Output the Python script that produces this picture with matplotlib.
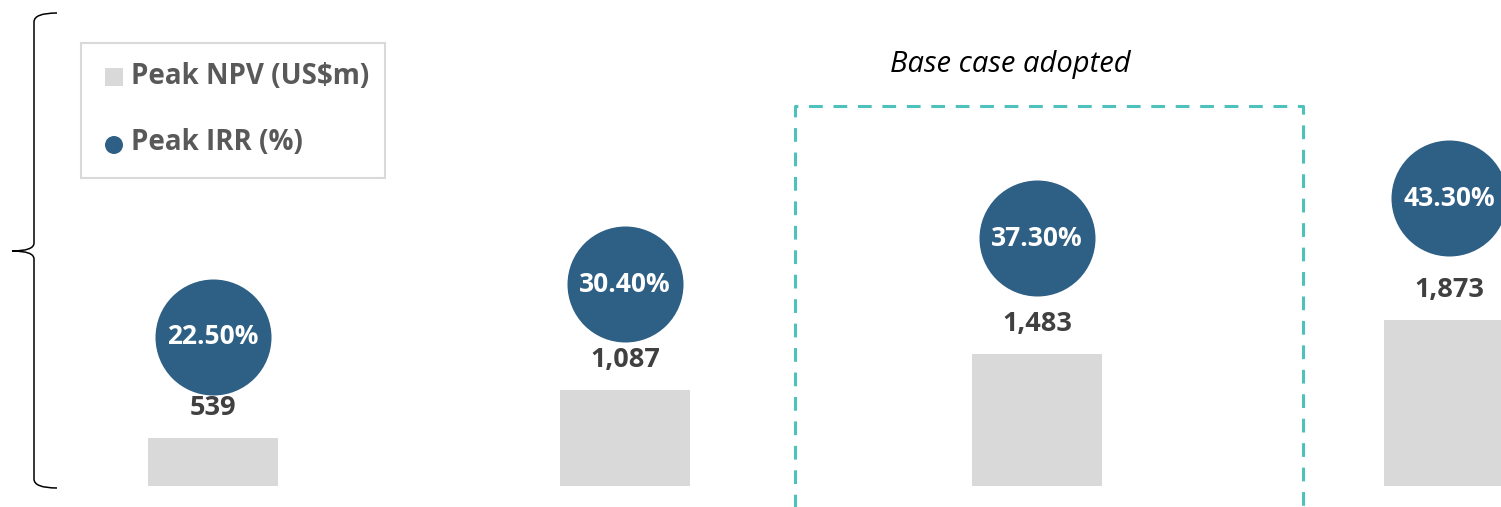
import numpy as np
import matplotlib
matplotlib.use("Agg")
from matplotlib import pyplot as plt
from matplotlib.patches import Rectangle, Ellipse, PathPatch
from matplotlib.path import Path

# peak NPV (US$m) and peak IRR (%) for each case
cases = ["Case 1", "Case 2", "Case 3", "Case 4"]
npv = [539, 1087, 1483, 1873]
irr = [22.5, 30.4, 37.3, 43.3]
npv_labels = ["539", "1,087", "1,483", "1,873"]
irr_labels = ["22.50%", "30.40%", "37.30%", "43.30%"]
base_case = 2

bar_color = "#d9d9d9"
dot_color = "#2e5f85"
label_color = "#404040"
legend_text = "#595959"
box_color = "#4fc1bd"

plt.rcParams['font.family'] = ['Open Sans', 'DejaVu Sans']

W, H = 1501, 507
fig = plt.figure(figsize=(W / 100, H / 100), dpi=100)
ax = fig.add_axes([0, 0, 1, 1])
ax2 = ax.twinx()

# pixel scales
step = 412.0
x0 = 213.0
base = 21.0          # baseline height above figure bottom
k_npv = 0.0887       # px per US$m
k_irr = 6.64         # px per %

x = np.arange(len(cases))
ax.set_xlim(-x0 / step, (W - x0) / step)
ax.set_ylim(-base / k_npv, (H - base) / k_npv)
ax2.set_ylim(-base / k_irr, (H - base) / k_irr)

ax.bar(x, npv, width=130 / step, color=bar_color, zorder=2)
for xi, v, lab in zip(x, npv, npv_labels):
    ax.annotate(lab, (xi, v), xytext=(0, 30), textcoords="offset pixels",
                ha="center", va="center", fontsize=19.5, fontweight="bold",
                color=label_color)

ax2.scatter(x, irr, s=(116 * 0.72) ** 2, color=dot_color, zorder=3,
            linewidths=0, clip_on=True)
for xi, v, lab in zip(x, irr, irr_labels):
    ax2.text(xi, v, lab, ha="center", va="center", fontsize=19,
             fontweight="bold", color="white", zorder=4)

# dashed box around the adopted base case
bx0 = base_case + (795 - 1037) / step
bx1 = base_case + (1303 - 1037) / step
by1 = (486 - 106) / k_npv
by0 = -60 / k_npv
ax.plot([bx0, bx0, bx1, bx1], [by0, by1, by1, by0], color=box_color,
        lw=2.2, linestyle=(0, (4.5, 3.5)), clip_on=True, zorder=1)
ax.text(base_case + (1010 - 1037) / step, (486 - 64) / k_npv,
        "Base case adopted", ha="center", va="center", fontsize=21,
        style="italic", color="black")

for a in (ax, ax2):
    a.axis("off")


def fp(px, py):
    return px / W, 1 - py / H


# legend
lx0, ly0 = fp(81, 178)
lx1, ly1 = fp(385, 43)
fig.patches.append(Rectangle((lx0, ly0), lx1 - lx0, ly1 - ly0,
                             transform=fig.transFigure, facecolor="white",
                             edgecolor="#d9d9d9", lw=1.5))
sx, sy = fp(105, 86)
fig.patches.append(Rectangle((sx, sy), 18 / W, 18 / H, transform=fig.transFigure,
                             facecolor=bar_color, edgecolor="none"))
fig.text(*fp(131, 76), "Peak NPV (US$m)", ha="left", va="center",
         fontsize=20, fontweight="bold", color=legend_text)
fig.patches.append(Ellipse(fp(114, 145), 18 / W, 18 / H, transform=fig.transFigure,
                           facecolor=dot_color, edgecolor="none"))
fig.text(*fp(131, 143), "Peak IRR (%)", ha="left", va="center",
         fontsize=20, fontweight="bold", color=legend_text)

# curly brace on the left
pts = [(57, 13), (34, 13), (34, 22),
       (34, 243),
       (34, 251), (12, 251),
       (34, 251), (34, 259),
       (34, 479),
       (34, 488), (57, 488)]
codes = [Path.MOVETO, Path.CURVE3, Path.CURVE3,
         Path.LINETO,
         Path.CURVE3, Path.CURVE3,
         Path.CURVE3, Path.CURVE3,
         Path.LINETO,
         Path.CURVE3, Path.CURVE3]
brace = Path([(px / W, 1 - py / H) for px, py in pts], codes)
fig.patches.append(PathPatch(brace, transform=fig.transFigure, facecolor="none",
                             edgecolor="black", lw=1.1))

fig.savefig("out.png", dpi=100)
